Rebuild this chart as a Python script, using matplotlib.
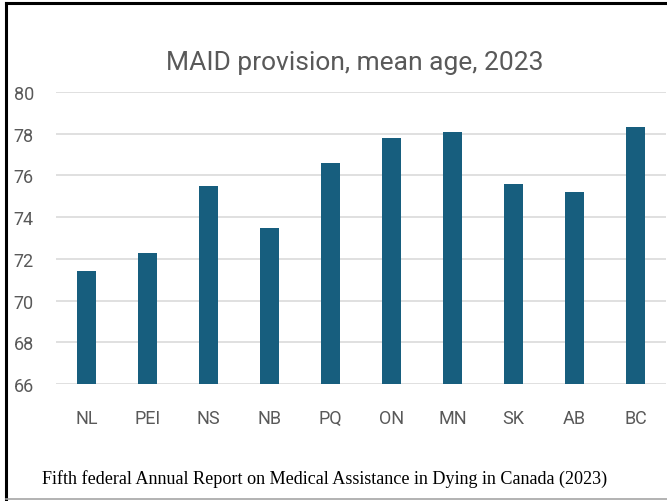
import matplotlib
matplotlib.use("Agg")
import matplotlib.pyplot as plt
from matplotlib.lines import Line2D

provinces = ["NL", "PEI", "NS", "NB", "PQ", "ON", "MN", "SK", "AB", "BC"]
mean_age = [71.4, 72.3, 75.5, 73.5, 76.6, 77.8, 78.1, 75.6, 75.2, 78.3]
y_ticks = [66, 68, 70, 72, 74, 76, 78, 80]

bar_color = "#175E7E"
grid_color = "#DDDDDD"
text_color = "#595959"
narrow = ["Roboto", "DejaVu Sans"]

fig = plt.figure(figsize=(6.67, 5.02), dpi=100)
ax = fig.add_axes([0.084, 0.2331, 0.9145, 0.5816])

x = range(len(provinces))
ax.bar(x, mean_age, width=0.31, color=bar_color, zorder=3)
ax.set_ylim(66, 80)
ax.set_xlim(-0.5, len(provinces) - 0.5)
ax.set_yticks(y_ticks)
ax.set_xticks(list(x))
ax.set_xticklabels(provinces)

for s in ax.spines.values():
    s.set_visible(False)
ax.grid(axis="y", color=grid_color, linewidth=1.3, zorder=0)
ax.tick_params(axis="both", length=0, colors=text_color, labelsize=13)
ax.tick_params(axis="y", pad=16)
ax.tick_params(axis="x", pad=18)
for lab in ax.get_xticklabels() + ax.get_yticklabels():
    lab.set_family(narrow)

fig.text(0.532, 0.874, "MAID provision, mean age, 2023", ha="center",
         va="center", fontsize=19, color=text_color, family=narrow)

fig.text(0.063, 0.036, "Fifth federal Annual Report on Medical Assistance in Dying in Canada (2023)",
         ha="left", va="baseline", fontsize=13.1, color="black",
         family=["Liberation Serif", "DejaVu Serif"])

# outer frame: black top and left, grey bottom
fig.add_artist(Line2D([0.009, 1.0], [0.993, 0.993], color="black",
                      linewidth=2.2, transform=fig.transFigure))
fig.add_artist(Line2D([0.009, 0.009], [0.004, 0.993], color="black",
                      linewidth=2.2, transform=fig.transFigure))
fig.add_artist(Line2D([0.009, 1.0], [0.004, 0.004], color="#A6A6A6",
                      linewidth=1.2, transform=fig.transFigure))

fig.savefig("out.png", dpi=100)
